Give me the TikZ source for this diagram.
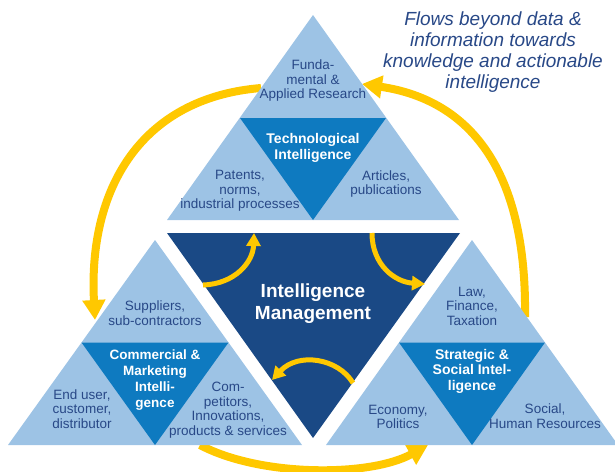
\documentclass[tikz,border=0pt]{standalone}
\usepackage{fontspec}
\setmainfont{Liberation Sans}
\usetikzlibrary{arrows.meta}
\definecolor{paleblue}{RGB}{157,195,229}
\definecolor{midblue}{RGB}{14,122,192}
\definecolor{navyblue}{RGB}{26,73,133}
\definecolor{inkblue}{RGB}{40,72,135}
\definecolor{flowyellow}{RGB}{255,200,0}
\tikzset{
	leaf/.style={align=center, text=inkblue, inner sep=0pt, font=\fontsize{13.5}{14.5}\selectfont},
	core/.style={align=center, text=white, inner sep=0pt, font=\bfseries\fontsize{14}{15.5}\selectfont},
	bigflow/.style={draw=flowyellow, line width=8pt, -{Triangle[length=20pt,width=22pt]}},
	smallflow/.style={draw=flowyellow, line width=5pt, -{Triangle[length=13pt,width=14pt]}},
}

\begin{document}
\begin{tikzpicture}[x=1pt, y=-1pt]
			%%%%% START %%%%%
			\useasboundingbox (0,0) rectangle (615,471);
			\clip (0,0) rectangle (615,471);
			
			% ends of the big flows
			\coordinate (researchedge) at (261,88);
			\coordinate (supplieredge) at (95,320);
			\coordinate (servicesbase) at (200,445);
			\coordinate (politicsbase) at (428,445);
			\coordinate (taxedge) at (525,317);
			\coordinate (appliededge) at (362,84);
			
			\draw[bigflow] (researchedge) .. controls (140,98) and (88,190) .. (supplieredge);
			\draw[bigflow] (servicesbase) .. controls (260,477) and (370,477) .. (politicsbase);
			\draw[bigflow] (taxedge) .. controls (527,170) and (470,100) .. (appliededge);
			
			% technological
			\fill[paleblue] (313,15) -- (459,220) -- (167,220) -- cycle;
			\fill[midblue] (240,118) -- (386,118) -- (313,220) -- cycle;
			
			% commercial
			\fill[paleblue] (155,240) -- (302,445) -- (8,445) -- cycle;
			\fill[midblue] (81.5,342.5) -- (228.5,342.5) -- (155,445) -- cycle;
			
			% strategic
			\fill[paleblue] (472,240) -- (618,445) -- (326,445) -- cycle;
			\fill[midblue] (399,342.5) -- (545,342.5) -- (472,445) -- cycle;
			
			% management
			\fill[navyblue] (167,233) -- (460,233) -- (313,438) -- cycle;
			
			\node[leaf] (research) at (313,81) {Funda-\\mental \&\\Applied Research};
			\node[core] (techintel) at (313,148) {Technological\\Intelligence};
			\node[leaf] (patents) at (240,191) {Patents,\\norms,\\industrial processes};
			\node[leaf] (articles) at (386,184) {Articles,\\publications};
			
			\node[leaf] (suppliers) at (155,313) {Suppliers,\\sub-contractors};
			\node[core, font=\bfseries\fontsize{13.5}{16}\selectfont] (comintel) at (155,380) {Commercial \&\\Marketing\\Intelli-\\gence};
			\node[leaf] (enduser) at (82,409) {End user,\\customer,\\distributor};
			\node[leaf] (competitors) at (228,410) {Com-\\petitors,\\Innovations,\\products \& services};
			
			\node[leaf] (law) at (472,306) {Law,\\Finance,\\Taxation};
			\node[core] (stratintel) at (472,371) {Strategic \&\\Social Intel-\\ligence};
			\node[leaf] (economy) at (398,417) {Economy,\\Politics};
			\node[leaf] (social) at (545,416) {Social,\\Human Resources};
			
			\node[core, font=\bfseries\fontsize{19}{22}\selectfont] (intman) at (313,304) {Intelligence\\Management};
			
			\node[align=center, inner sep=0pt, text=inkblue, font=\itshape\fontsize{19}{21}\selectfont] (flows) at (493,52) {Flows beyond data \&\\information towards\\knowledge and actionable\\intelligence};
			
			% small flows
			\coordinate (mgmtleft) at (203,285);
			\coordinate (mgmttopl) at (254,233);
			\coordinate (mgmttopr) at (372,233);
			\coordinate (mgmtright) at (425,284);
			\coordinate (mgmtlow) at (353,383);
			\coordinate (mgmtlowl) at (272,380);
			
			\draw[smallflow] (mgmtleft) .. controls (235,284) and (253,262) .. (mgmttopl);
			\draw[smallflow] (mgmttopr) .. controls (372,265) and (395,282) .. (mgmtright);
			\draw[smallflow] (mgmtlow) .. controls (338,358) and (298,352) .. (mgmtlowl);
			
			%%%%% END %%%%%
\end{tikzpicture}
\end{document}
